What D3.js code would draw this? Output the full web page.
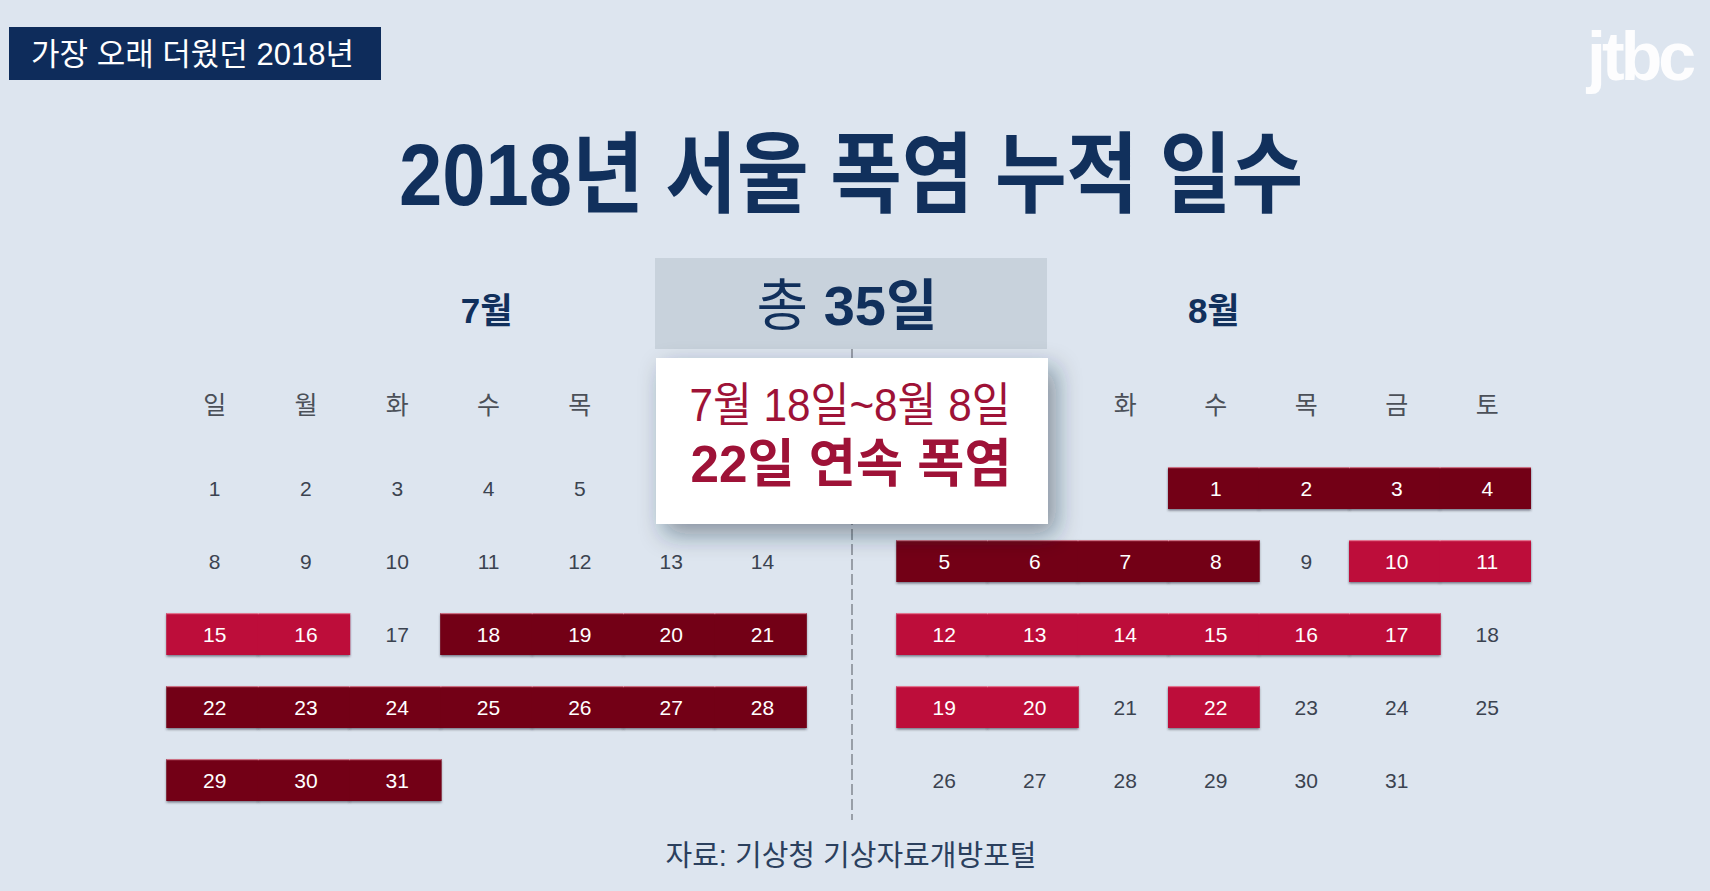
<!DOCTYPE html>
<html>
<head>
<meta charset="utf-8">
<script src="https://cdn.jsdelivr.net/npm/d3@7"></script>
<style>
  html, body { margin: 0; padding: 0; background: #dde5ef; overflow: hidden; }
  svg { display: block; }
  text { font-family: 'Liberation Sans', 'Noto Sans CJK KR', sans-serif; }
</style>
</head>
<body>
<div id="chart"></div>
<script>
// 데이터
const weekdays = ['일', '월', '화', '수', '목', '금', '토'];
const monthLabels = ['7월', '8월'];
const monthLengths = [31, 31];
const monthStartDow = [0, 3]; // 2018-07-01 일요일, 2018-08-01 수요일
// 22일 연속 폭염 (7/18 ~ 8/8)
const streakJuly = [18, 19, 20, 21, 22, 23, 24, 25, 26, 27, 28, 29, 30, 31];
const streakAug = [1, 2, 3, 4, 5, 6, 7, 8];
// 그 밖의 폭염일
const heatJuly = [15, 16];
const heatAug = [10, 11, 12, 13, 14, 15, 16, 17, 19, 20, 22];
const totalDays = 35;

const width = 1710, height = 891;
const C = {
    bg: '#dde5ef', navy: '#11305c', streak: '#730016', heat: '#bd0d3a',
    num: '#3b4350', wd: '#4b5058', crimson: '#9e1237'
};

const svg = d3.select('#chart').append('svg')
    .attr('width', width).attr('height', height);

const defs = svg.append('defs');
const shadow = defs.append('filter').attr('id', 'shadow')
    .attr('x', '-20%').attr('y', '-20%').attr('width', '150%').attr('height', '160%');
shadow.append('feDropShadow').attr('dx', 8).attr('dy', 10).attr('stdDeviation', 12)
    .attr('flood-color', '#1d2a3a').attr('flood-opacity', 0.45);
const barShadow = defs.append('filter').attr('id', 'barShadow')
    .attr('x', '-5%').attr('y', '-20%').attr('width', '110%').attr('height', '150%');
barShadow.append('feDropShadow').attr('dx', 0).attr('dy', 1.5).attr('stdDeviation', 0.8)
    .attr('flood-color', '#2a2f3a').attr('flood-opacity', 0.6);

svg.append('rect').attr('width', width).attr('height', height).attr('fill', C.bg);

// 좌상단 태그
svg.append('rect').attr('x', 9).attr('y', 27).attr('width', 372).attr('height', 53).attr('fill', '#0e2c5b');
svg.append('text').attr('x', 31).attr('y', 65).attr('font-size', 31).attr('fill', '#fff')
    .text('가장 오래 더웠던 2018년');

// 로고
svg.append('text').attr('x', 1692).attr('y', 80).attr('text-anchor', 'end')
    .attr('font-size', 68).attr('font-weight', 'bold').attr('letter-spacing', -4)
    .attr('fill', '#fff').attr('opacity', 0.95).text('jtbc');

// 제목
svg.append('text').attr('x', 851).attr('y', 205).attr('text-anchor', 'middle')
    .attr('font-size', 88).attr('font-weight', 'bold').attr('fill', C.navy)
    .attr('textLength', 904).attr('lengthAdjust', 'spacingAndGlyphs')
    .text('2018년 서울 폭염 누적 일수');

// 가운데 점선
svg.append('line').attr('x1', 852).attr('x2', 852).attr('y1', 349).attr('y2', 820)
    .attr('stroke', '#6b7078').attr('stroke-width', 1.2).attr('stroke-dasharray', '11,4');

// 달력
const panelLeft = [167, 897];
const cellW = [91.3, 90.5];
const rowY = d3.scalePoint().domain(d3.range(5)).range([488, 780]);
const barH = 42;

monthLabels.forEach((label, mi) => {
    const x = d3.scaleBand().domain(weekdays)
        .range([panelLeft[mi], panelLeft[mi] + cellW[mi] * 7]);
    const g = svg.append('g');
    const streak = mi === 0 ? streakJuly : streakAug;
    const heat = mi === 0 ? heatJuly : heatAug;

    g.append('text').attr('x', x(weekdays[3]) + x.bandwidth() / 2).attr('y', 323)
        .attr('text-anchor', 'middle').attr('font-size', 35).attr('font-weight', 'bold')
        .attr('fill', C.navy).text(label);

    g.selectAll('.wd').data(weekdays).enter().append('text')
        .attr('x', d => x(d) + x.bandwidth() / 2 + 2).attr('y', 414)
        .attr('text-anchor', 'middle').attr('font-size', 25).attr('fill', C.wd)
        .text(d => d);

    const days = d3.range(1, monthLengths[mi] + 1).map(d => {
        const idx = d - 1 + monthStartDow[mi];
        return {
            day: d, col: weekdays[idx % 7], row: Math.floor(idx / 7),
            type: streak.includes(d) ? 'streak' : heat.includes(d) ? 'heat' : 'none'
        };
    });

    const marked = days.filter(d => d.type !== 'none');
    g.selectAll('.bar').data(marked).enter().append('rect')
        .attr('x', d => x(d.col) - 0.5).attr('width', x.bandwidth() + 1)
        .attr('y', d => rowY(d.row) - barH / 2).attr('height', barH)
        .attr('fill', d => d.type === 'streak' ? C.streak : C.heat)
        .attr('filter', 'url(#barShadow)');
    // 바 이음새 덮기
    g.selectAll('.barfill').data(marked).enter().append('rect')
        .attr('x', d => x(d.col) - 0.5).attr('width', x.bandwidth() + 1)
        .attr('y', d => rowY(d.row) - barH / 2).attr('height', barH)
        .attr('fill', d => d.type === 'streak' ? C.streak : C.heat);
    // 위쪽 밝은 테두리
    g.selectAll('.barTop').data(marked).enter().append('rect')
        .attr('x', d => x(d.col) - 0.5).attr('width', x.bandwidth() + 1)
        .attr('y', d => rowY(d.row) - barH / 2).attr('height', 1.2)
        .attr('fill', '#f2a0b4').attr('opacity', 0.7);

    g.selectAll('.num').data(days).enter().append('text')
        .attr('x', d => x(d.col) + x.bandwidth() / 2 + 2).attr('y', d => rowY(d.row) + 8)
        .attr('text-anchor', 'middle').attr('font-size', 21)
        .attr('fill', d => d.type === 'none' ? C.num : '#fff')
        .text(d => d.day);
});

// 총 일수 박스
svg.append('rect').attr('x', 655).attr('y', 258).attr('width', 392).attr('height', 91)
    .attr('fill', '#c8d2dc');
const tot = svg.append('text').attr('x', 847).attr('y', 325).attr('text-anchor', 'middle')
    .attr('font-size', 56).attr('fill', C.navy);
tot.append('tspan').text('총 ');
tot.append('tspan').attr('font-weight', 'bold').text(totalDays + '일');

// 연속 폭염 박스
svg.append('rect').attr('x', 656).attr('y', 358).attr('width', 392).attr('height', 166)
    .attr('fill', '#fff').attr('filter', 'url(#shadow)');
svg.append('text').attr('x', 850).attr('y', 421).attr('text-anchor', 'middle')
    .attr('font-size', 47).attr('fill', C.crimson)
    .attr('textLength', 321).attr('lengthAdjust', 'spacingAndGlyphs')
    .text('7월 18일~8월 8일');
svg.append('text').attr('x', 851).attr('y', 482).attr('text-anchor', 'middle')
    .attr('font-size', 52).attr('font-weight', 'bold').attr('fill', C.crimson)
    .attr('textLength', 321).attr('lengthAdjust', 'spacingAndGlyphs')
    .text('22일 연속 폭염');

// 출처
svg.append('text').attr('x', 851).attr('y', 866).attr('text-anchor', 'middle')
    .attr('font-size', 29).attr('fill', '#2b405e')
    .text('자료: 기상청 기상자료개방포털');
</script>
</body>
</html>
